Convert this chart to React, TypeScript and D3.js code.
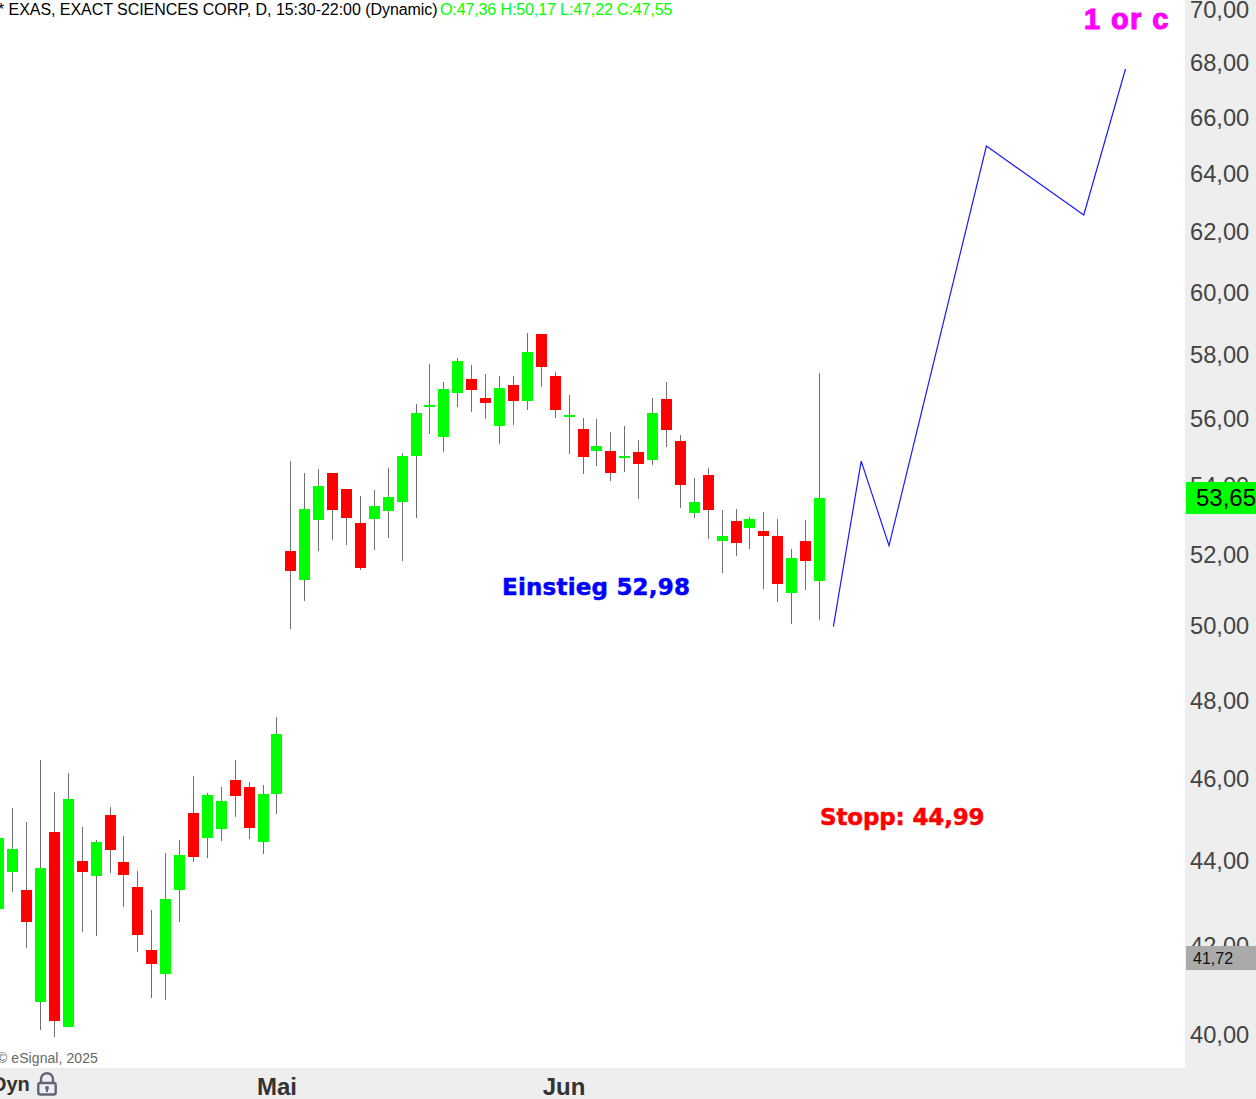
import React from "react";
import * as d3 from "d3";

const opens = [42.85,43.73,43.30,40.73,44.69,40.18,43.99,43.63,45.11,43.96,43.37,41.90,41.35,43.30,45.16,44.55,44.77,45.98,45.80,44.45,45.63,52.10,51.28,52.99,54.37,53.90,52.91,53.02,53.25,53.51,54.87,56.36,55.45,56.79,57.23,56.63,55.78,57.04,56.54,58.65,57.32,56.05,55.69,55.02,55.02,54.81,54.99,54.75,56.60,55.32,53.20,54.31,52.39,52.96,52.76,52.68,52.53,50.91,52.39,51.25];
const closes = [44.54,44.27,42.54,43.82,40.31,45.50,43.73,44.45,44.25,43.65,42.25,41.58,43.08,44.13,44.08,45.60,45.45,45.58,44.79,45.63,47.15,51.54,53.31,53.98,53.28,53.05,51.62,53.40,53.66,54.87,56.17,56.42,56.92,57.79,56.88,56.48,56.95,56.54,58.08,57.61,56.27,56.11,54.84,55.17,54.37,54.87,54.64,56.17,55.66,54.01,53.51,53.28,52.53,52.33,53.02,52.53,51.17,51.90,51.82,53.63];
const highs = [45.18,45.28,44.94,46.48,45.68,46.15,44.82,44.50,45.31,44.59,43.75,42.83,44.18,44.50,46.08,45.65,45.80,46.48,45.93,45.85,47.59,54.72,54.37,54.49,54.37,53.90,53.69,53.87,54.52,54.96,56.45,57.70,57.13,57.89,57.67,57.39,57.32,57.32,58.68,58.65,57.45,56.73,56.02,55.99,55.60,55.78,55.35,56.63,57.13,55.51,54.22,54.52,53.28,53.31,53.08,53.22,53.02,52.16,52.99,57.42];
const lows = [42.02,43.25,41.95,40.11,39.96,40.18,42.32,42.22,43.70,42.90,41.85,40.82,40.77,42.54,43.96,44.06,44.47,45.06,44.52,44.15,45.13,49.92,50.69,52.10,52.42,52.27,51.57,52.13,52.48,51.82,53.05,55.54,54.99,56.36,56.21,55.99,55.23,55.81,56.27,56.98,56.02,54.93,54.34,54.58,54.13,54.40,53.60,54.61,55.14,53.34,53.05,52.45,51.48,51.96,52.16,51.03,50.67,50.07,51.00,50.18];
const upColor = "#00ff00";
const downColor = "#ff0000";

const forecastIndex = [60, 62, 64, 71, 78, 81];
const forecastPrice = [49.99, 54.72, 52.25, 64.99, 62.59, 67.78];

const priceTicks = [70, 68, 66, 64, 62, 60, 58, 56, 54, 52, 50, 48, 46, 44, 42, 40];
const monthLabels = [{ label: "Mai", index: 20 }, { label: "Jun", index: 40.64 }];

const headerSymbol = "* EXAS, EXACT SCIENCES CORP, D, 15:30-22:00 (Dynamic)";
const headerOhlc = "O:47,36 H:50,17 L:47,22 C:47,55";
const lastPrice = 53.65;
const otherPrice = 41.72;

const W = 1256;
const H = 1099;
const plotRight = 1185;
const plotBottom = 1068;
const sans = "'Liberation Sans', Arial, sans-serif";
const heavy = "'DejaVu Sans', Verdana, sans-serif";

const fmt = (v: number) => v.toFixed(2).replace(".", ",");

export default function App() {
  const y = d3.scaleLog().domain([40, 70]).range([1035, 10]);
  const x = d3.scaleLinear().domain([0, 59]).range([-1.22, 819.47]);
  const line = d3.line<number>().x((_, i) => x(forecastIndex[i])).y((d) => y(d));

  return (
    <svg width={W} height={H} viewBox={`0 0 ${W} ${H}`} style={{ position: "absolute", left: 0, top: 0, display: "block", background: "#fff" }}>
      <g>
        {opens.map((o, i) => {
          const c = closes[i];
          const cx = Math.floor(x(i));
          const top = Math.round(y(Math.max(o, c)));
          const bottom = Math.round(y(Math.min(o, c)));
          return (
            <g key={i} shapeRendering="crispEdges">
              <line x1={cx + 0.5} x2={cx + 0.5} y1={Math.round(y(highs[i]))} y2={Math.round(y(lows[i]))} stroke="#707070" strokeWidth={1} />
              <rect x={cx - 5} width={11} y={top} height={Math.max(2, bottom - top)} fill={c >= o ? upColor : downColor} />
            </g>
          );
        })}
      </g>
      <path d={line(forecastPrice) ?? ""} fill="none" stroke="#1a1aff" strokeWidth={1.2} />

      <text x={-2} y={15} fontFamily={sans} fontSize={16} fill="#000" letterSpacing={-0.05}>
        {headerSymbol}
      </text>
      <text x={440} y={15} fontFamily={sans} fontSize={16} fill="#00ff00" letterSpacing={-0.11}>
        {headerOhlc}
      </text>

      <text x={1084} y={29} fontFamily={sans} fontWeight="bold" fontSize={29} fill="#ff00ff" stroke="#ff00ff" strokeWidth={1.1} letterSpacing={1.4}>1 or c</text>
      <text x={502} y={595} fontFamily={heavy} fontWeight="bold" fontSize={23} fill="#0000ff" stroke="#0000ff" strokeWidth={0.5} letterSpacing={0.2}>Einstieg 52,98</text>
      <text x={820} y={825} fontFamily={heavy} fontWeight="bold" fontSize={23} fill="#ff0000" stroke="#ff0000" strokeWidth={0.5} letterSpacing={-0.15}>Stopp: 44,99</text>
      <text x={-3} y={1063} fontFamily={sans} fontSize={14} fill="#666" letterSpacing={0.07}>© eSignal, 2025</text>

      <rect x={plotRight} y={0} width={W - plotRight} height={H} fill="#eeeeee" />
      <rect x={0} y={plotBottom} width={W} height={H - plotBottom} fill="#eeeeee" />

      {priceTicks.map((t) => (
        <text key={t} x={1190} y={y(t) + 8.2} fontFamily={sans} fontSize={23.7} fill="#444">{fmt(t)}</text>
      ))}

      <rect x={1186} y={482} width={70} height={32} fill="#00ff00" />
      <text x={1196} y={506} fontFamily={sans} fontSize={24} fill="#000">{fmt(lastPrice)}</text>
      <rect x={1186} y={946} width={70} height={24} fill="#aaaaaa" />
      <text x={1193} y={964} fontFamily={sans} fontSize={16} fill="#111">{fmt(otherPrice)}</text>

      {monthLabels.map((m) => (
        <text key={m.label} x={x(m.index)} y={1095} textAnchor="middle" fontFamily={sans} fontWeight="bold" fontSize={24} fill="#333">{m.label}</text>
      ))}
      <text x={-8} y={1091} fontFamily={sans} fontWeight="bold" fontSize={20} fill="#333">Dyn</text>
      <g fill="none" stroke="#5f6478" strokeWidth={2.4}>
        <path d="M41 1083 v-4 a6 5.8 0 0 1 12 0 v4" />
        <rect x={38.3} y={1083} width={17.4} height={11.5} rx={2} />
      </g>
      <circle cx={47} cy={1088} r={2} fill="#5f6478" />
      <rect x={46} y={1088} width={2} height={4} fill="#5f6478" />
    </svg>
  );
}
